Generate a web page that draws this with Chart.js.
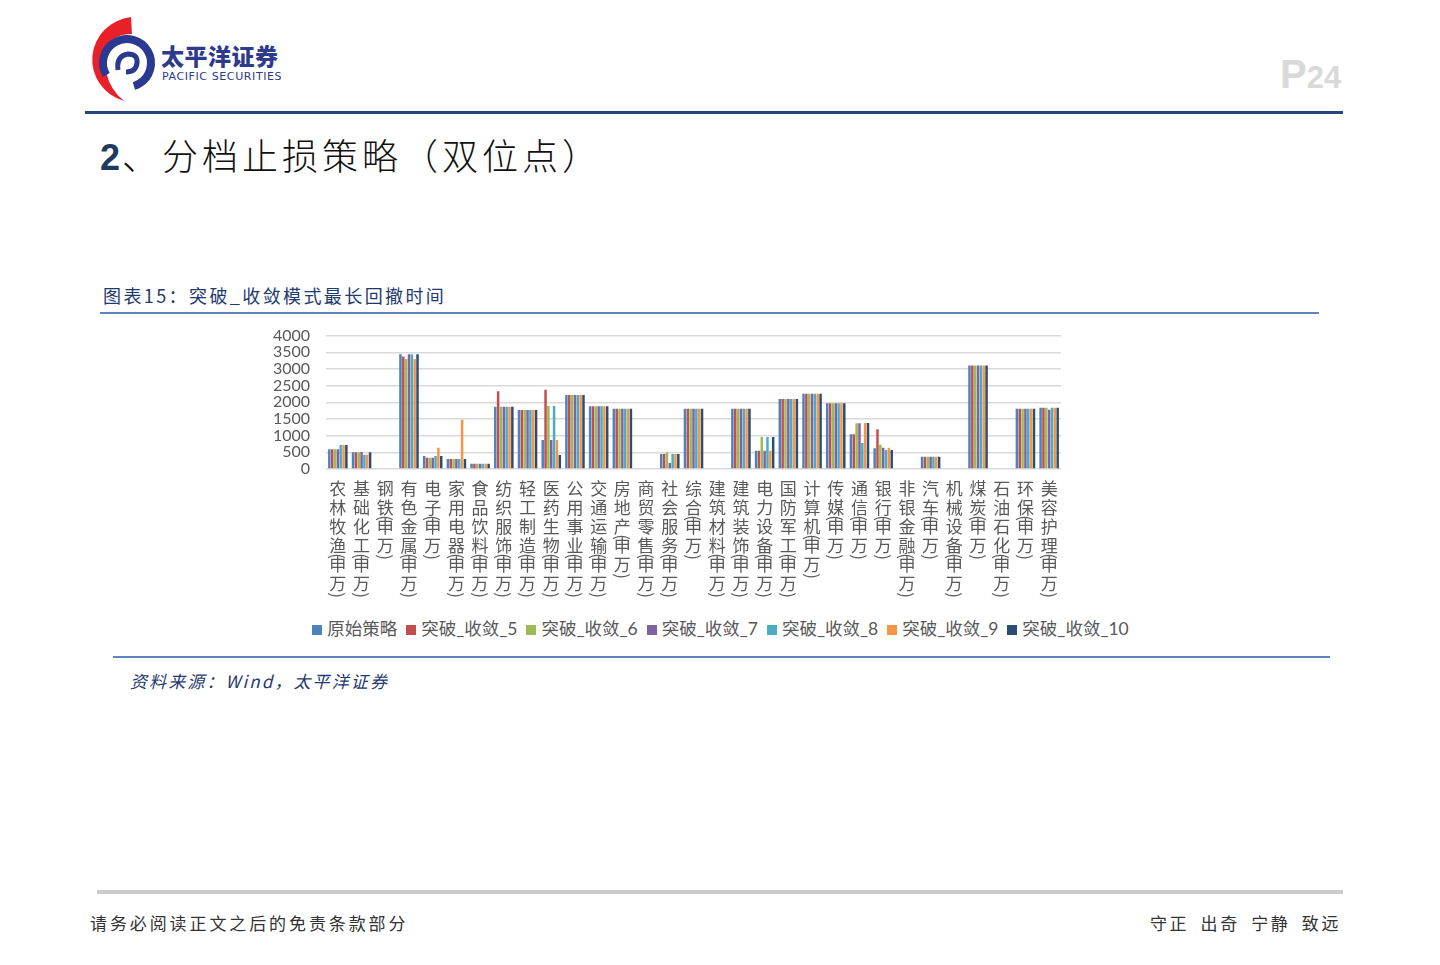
<!DOCTYPE html>
<html>
<head>
<meta charset="utf-8">
<script src="https://cdn.jsdelivr.net/npm/chart.js@4.4.0/dist/chart.umd.min.js"></script>
<style>
  body { margin: 0; background: #fff; width: 1440px; height: 965px; position: relative; overflow: hidden;
         font-family: "Noto Sans CJK SC", "Noto Sans", sans-serif; }
  .abs { position: absolute; }
  .hline { position: absolute; }
  #legend { position: absolute; left: 0; width: 1450px; top: 615px; text-align: center; white-space: nowrap;
            font-size: 17.5px; color: #595959; font-family: Lato, "Noto Sans CJK SC"; }
  #legend span.box { display: inline-block; width: 10px; height: 10px; margin-right: 5px; vertical-align: 0px; }
  #legend span.item { margin-right: 9px; }
</style>
</head>
<body>

<svg class="abs" style="left:0;top:0" width="300" height="110">
  <path d="M131 17 A44 43 0 0 0 124 101 A50 48 0 0 1 112 40 A30 30 0 0 1 132 34 Z" fill="#e8202a"/>
  <circle cx="127" cy="63" r="24" fill="none" stroke="#2b3990" stroke-width="8" stroke-dasharray="118 33" transform="rotate(150 127 63)"/>
  <path d="M118 70 Q116 56 128 54 Q138 54 137 63 Q136 72 126 72" fill="none" stroke="#2b3990" stroke-width="5"/>
</svg>
<div class="abs" style="left:161px;top:44px;font-size:23px;line-height:23px;font-weight:900;color:#2e3a8c;letter-spacing:0.5px;">太平洋证券</div>
<div class="abs" style="left:162px;top:71px;font-size:11px;line-height:11px;color:#2e3a8c;letter-spacing:0.6px;font-family:'DejaVu Sans';">PACIFIC SECURITIES</div>

<div class="abs" style="left:1280px;top:52px;color:#d9d9d9;font-family:'Liberation Sans';font-weight:bold;">
  <span style="font-size:40px;">P</span><span style="font-size:31px;">24</span>
</div>
<div class="hline" style="left:85px;top:111px;width:1258px;height:3px;background:#27467f;"></div>

<div class="abs" style="left:100px;top:128px;font-size:36px;font-weight:300;color:#111;letter-spacing:4px;white-space:nowrap;">
  <span style="font-family:'Liberation Sans';font-weight:bold;color:#1f3a60;letter-spacing:2px;">2</span>、分档止损策略（双位点）
</div>

<div class="abs" style="left:103px;top:282px;font-size:18px;color:#1f3a6e;letter-spacing:2.4px;white-space:nowrap;">图表15：突破_收敛模式最长回撤时间</div>
<div class="hline" style="left:100px;top:312px;width:1219px;height:2px;background:#5b84c0;"></div>

<div class="abs" style="left:260px;top:310px;">
  <canvas id="chart" width="880" height="294"></canvas>
</div>
<div id="legend"></div>

<div class="hline" style="left:113px;top:656px;width:1217px;height:2px;background:#5b84c0;"></div>
<div class="abs" style="left:130px;top:668px;font-size:17px;font-style:italic;color:#1f3a6e;letter-spacing:2.1px;white-space:nowrap;">资料来源：Wind，太平洋证券</div>

<div class="hline" style="left:97px;top:890px;width:1246px;height:4px;background:#cbcbcb;"></div>
<div class="abs" style="left:90px;top:910px;font-size:17px;color:#333;letter-spacing:2.9px;white-space:nowrap;">请务必阅读正文之后的免责条款部分</div>
<div class="abs" style="left:1150px;top:910px;font-size:17px;color:#333;letter-spacing:2.6px;word-spacing:5px;white-space:nowrap;">守正 出奇 宁静 致远</div>

<script>
var categories = ["农林牧渔(申万)", "基础化工(申万)", "钢铁(申万)", "有色金属(申万)", "电子(申万)", "家用电器(申万)",
  "食品饮料(申万)", "纺织服饰(申万)", "轻工制造(申万)", "医药生物(申万)", "公用事业(申万)", "交通运输(申万)",
  "房地产(申万)", "商贸零售(申万)", "社会服务(申万)", "综合(申万)", "建筑材料(申万)", "建筑装饰(申万)",
  "电力设备(申万)", "国防军工(申万)", "计算机(申万)", "传媒(申万)", "通信(申万)", "银行(申万)",
  "非银金融(申万)", "汽车(申万)", "机械设备(申万)", "煤炭(申万)", "石油石化(申万)", "环保(申万)", "美容护理(申万)"];

var seriesNames = ["原始策略", "突破_收敛_5", "突破_收敛_6", "突破_收敛_7", "突破_收敛_8", "突破_收敛_9", "突破_收敛_10"];
var seriesColors = ["#4f81bd", "#c0504d", "#9bbb59", "#8064a2", "#4bacc6", "#f79646", "#2c4d75"];

var original = [590, 500, null, 3440, 390, 300, 160, 1870, 1770, 870, 2220, 1880, 1810, null, 450, 1810, null, 1810, 550, 2100, 2260, 1970, 1040, 620, null, 370, null, 3100, null, 1810, 1840];
var conv5 = [590, 500, null, 3370, 340, 300, 160, 2330, 1770, 2380, 2220, 1880, 1810, null, 450, 1810, null, 1810, 550, 2100, 2260, 1970, 1040, 1190, null, 370, null, 3100, null, 1810, 1840];
var conv6 = [590, 500, null, 3300, 340, 300, 160, 1870, 1770, 1890, 2220, 1880, 1810, null, 500, 1810, null, 1810, 960, 2100, 2260, 1970, 1370, 730, null, 370, null, 3100, null, 1810, 1840];
var conv7 = [590, 510, null, 3440, 340, 300, 160, 1870, 1770, 870, 2220, 1880, 1810, null, 180, 1810, null, 1810, 550, 2100, 2260, 1970, 1370, 640, null, 370, null, 3100, null, 1810, 1780];
var conv8 = [720, 430, null, 3440, 390, 300, 160, 1870, 1770, 1890, 2220, 1880, 1810, null, 450, 1810, null, 1810, 960, 2100, 2260, 1970, 780, 570, null, 370, null, 3100, null, 1810, 1840];
var conv9 = [720, 430, null, 3300, 640, 1480, 160, 1870, 1770, 870, 2220, 1880, 1810, null, 450, 1810, null, 1810, 550, 2100, 2260, 1970, 1380, 640, null, 370, null, 3100, null, 1810, 1840];
var conv10 = [720, 500, null, 3440, 390, 300, 160, 1870, 1770, 420, 2220, 1880, 1810, null, 450, 1810, null, 1810, 960, 2100, 2260, 1970, 1380, 570, null, 370, null, 3100, null, 1810, 1840];

var allSeries = [original, conv5, conv6, conv7, conv8, conv9, conv10];

// legend as html, centred under the chart like the original
document.getElementById('legend').innerHTML = seriesNames.map(function (n, k) {
  return '<span class="item"><span class="box" style="background:' + seriesColors[k] + '"></span>' + n + '</span>';
}).join('');

// vertical category labels, one character per row, brackets turned sideways
var verticalLabels = {
  id: 'verticalLabels',
  afterDraw: function (chart) {
    var ctx = chart.ctx;
    var xs = chart.scales.x;
    var top = chart.chartArea.bottom;
    ctx.save();
    ctx.fillStyle = '#595959';
    ctx.textAlign = 'center';
    ctx.textBaseline = 'middle';
    categories.forEach(function (lab, i) {
      var x = xs.getPixelForValue(i);
      var y = top + 20;
      for (var ch of lab) {
        if (ch === '(' || ch === ')') {
          var py = ch === '(' ? y - 9 : y - 8;
          ctx.save();
          ctx.font = '17px "Noto Sans CJK SC"';
          ctx.translate(x, py);
          ctx.rotate(Math.PI / 2);
          ctx.fillText(ch, 0, 0);
          ctx.restore();
        } else {
          ctx.font = '17px "Noto Sans CJK SC"';
          ctx.fillText(ch, x, y);
          y += 19;
        }
      }
    });
    ctx.restore();
  }
};

var ctx = document.getElementById('chart').getContext('2d');
var myChart = new Chart(ctx, {
  type: 'bar',
  data: {
    labels: categories,
    datasets: allSeries.map(function (d, k) {
      return {
        label: seriesNames[k],
        data: d,
        backgroundColor: seriesColors[k],
        borderWidth: 0,
        barPercentage: 0.88,
        categoryPercentage: 0.84
      };
    })
  },
  options: {
    responsive: false,
    animation: false,
    layout: { padding: { top: 10, right: 79, left: 0, bottom: 0 } },
    plugins: {
      tooltip: { enabled: false },
      legend: { display: false }
    },
    scales: {
      x: {
        grid: { display: false },
        border: { display: false },
        ticks: { display: false },
        afterFit: function (scale) { scale.height = 135; }
      },
      y: {
        min: 0,
        max: 4000,
        ticks: {
          stepSize: 500,
          autoSkip: false,
          padding: 16,
          color: '#595959',
          font: { size: 16, family: 'Lato' },
          callback: function (v) { return String(v); }
        },
        grid: { color: '#d9d9d9', lineWidth: 1.5, drawTicks: false },
        border: { display: false },
        afterFit: function (scale) { scale.width = 66; }
      }
    }
  },
  plugins: [verticalLabels]
});
</script>
</body>
</html>
